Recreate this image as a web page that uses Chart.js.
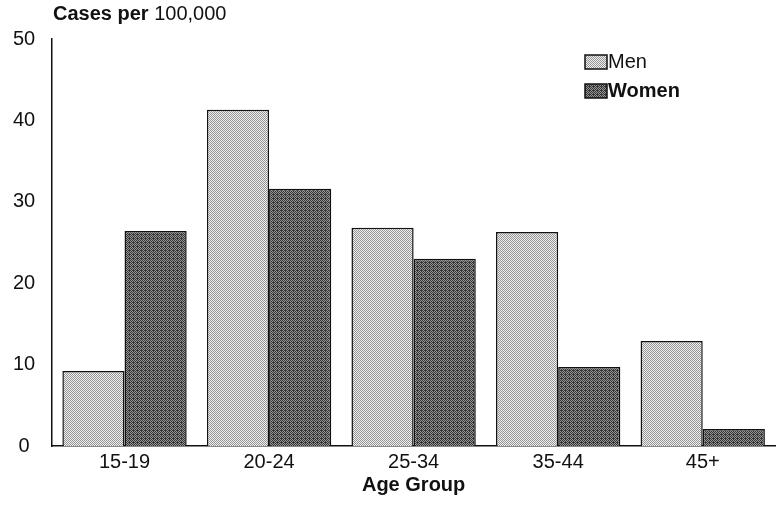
<!DOCTYPE html>
<html>
<head>
<meta charset="utf-8">
<script src="https://cdn.jsdelivr.net/npm/chart.js@4/dist/chart.umd.min.js"></script>
<style>
  html, body { margin: 0; padding: 0; background: #fff; }
  #wrap { width: 780px; height: 516px; position: relative; }
</style>
</head>
<body>
<div id="wrap"><canvas id="c" width="780" height="516"></canvas></div>
<script>
// Incidence by age group and sex
const categories = ['15-19', '20-24', '25-34', '35-44', '45+'];
const seriesNames = ['Men', 'Women'];
const menRates = [9.2, 41.3, 26.8, 26.3, 12.9];
const womenRates = [26.4, 31.6, 23.0, 9.7, 2.1];
const legendWeights = ['normal', 'bold'];

const FONT = '"Liberation Sans", Arial, Helvetica, sans-serif';

// Small dithered tile used as a halftone-like bar fill
function makePattern(light, dark, density) {
  const c = document.createElement('canvas');
  c.width = 4; c.height = 4;
  const g = c.getContext('2d');
  g.fillStyle = light;
  g.fillRect(0, 0, 4, 4);
  g.fillStyle = dark;
  for (let y = 0; y < 4; y++) {
    for (let x = 0; x < 4; x++) {
      const on = density === 'light' ? ((x + y) % 2 === 0) : ((x + y) % 2 === 0 || (x === 1 && y === 2));
      if (on) g.fillRect(x, y, 1, 1);
    }
  }
  return g.createPattern(c, 'repeat');
}

const ctx = document.getElementById('c').getContext('2d');
const menFill = makePattern('#f0f0f0', '#949494', 'light');
const womenFill = makePattern('#959595', '#353535', 'dark');

// Heading above the value axis: bold part followed by a regular part
const headingPlugin = {
  id: 'heading',
  afterDraw(chart) {
    const g = chart.ctx;
    g.save();
    g.fillStyle = '#111';
    g.textBaseline = 'middle';
    g.textAlign = 'left';
    const x = 53, y = 14;
    g.font = 'bold 20px ' + FONT;
    const bold = 'Cases per';
    g.fillText(bold, x, y);
    const w = g.measureText(bold + ' ').width;
    g.font = '20px ' + FONT;
    g.fillText('100,000', x + w, y);
    g.restore();
  }
};

// Legend with patterned swatches; each entry has its own weight
const legendPlugin = {
  id: 'swatchLegend',
  afterDraw(chart) {
    const g = chart.ctx;
    g.save();
    const x0 = 585, y0 = 62, gap = 29;
    chart.data.datasets.forEach((ds, i) => {
      const cy = y0 + i * gap;
      g.fillStyle = ds.backgroundColor;
      g.fillRect(x0, cy - 7, 22, 14);
      g.strokeStyle = '#111';
      g.lineWidth = 1.5;
      g.strokeRect(x0, cy - 7, 22, 14);
      g.fillStyle = '#111';
      g.font = legendWeights[i] + ' 20px ' + FONT;
      g.textBaseline = 'middle';
      g.textAlign = 'left';
      g.fillText(ds.label, x0 + 23, cy);
    });
    g.restore();
  }
};

new Chart(ctx, {
  type: 'bar',
  data: {
    labels: categories,
    datasets: [
      { label: seriesNames[0], data: menRates, backgroundColor: menFill,
        borderColor: '#111', borderWidth: 1.5 },
      { label: seriesNames[1], data: womenRates, backgroundColor: womenFill,
        borderColor: '#111', borderWidth: 1.5 }
    ]
  },
  options: {
    responsive: false,
    animation: false,
    layout: { padding: { left: -4, right: 5, top: 39, bottom: 21 } },
    datasets: { bar: { categoryPercentage: 0.86, barPercentage: 1.0 } },
    plugins: {
      legend: { display: false },
      tooltip: { enabled: false }
    },
    scales: {
      x: {
        grid: { display: false, drawTicks: false },
        border: { display: true, color: '#111', width: 1.5 },
        ticks: { color: '#111', font: { family: FONT, size: 20, lineHeight: 1 }, padding: 6 },
        title: {
          display: true, text: 'Age Group', color: '#111',
          font: { family: FONT, size: 20, weight: 'bold', lineHeight: 1 },
          padding: { top: -3, bottom: 0 }
        }
      },
      y: {
        min: 0, max: 50,
        grid: { display: false, drawTicks: false },
        border: { display: true, color: '#111', width: 1.5 },
        ticks: {
          stepSize: 10, color: '#111', crossAlign: 'center',
          font: { family: FONT, size: 20 }, padding: 17
        }
      }
    }
  },
  plugins: [headingPlugin, legendPlugin]
});
</script>
</body>
</html>
